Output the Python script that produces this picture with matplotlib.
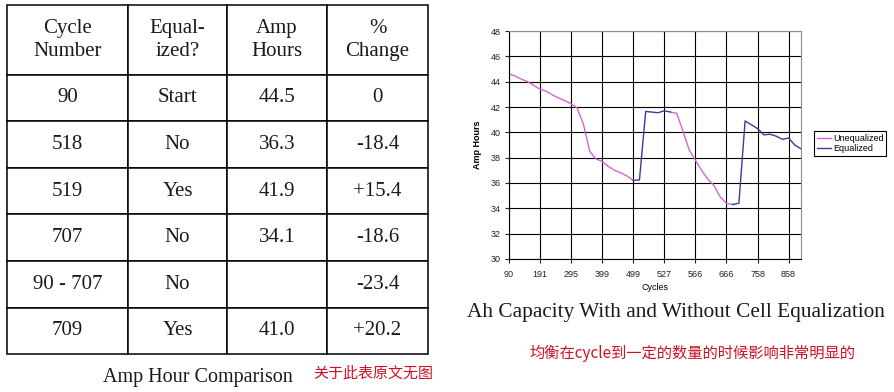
import numpy as np
import matplotlib.pyplot as plt

# 左边的表 (Amp Hour Comparison)
col_labels = ["Cycle\nNumber", "Equal-\nized?", "Amp\nHours", "%\nChange"]
cycle_no = ["90", "518", "519", "707", "90 - 707", "709"]
equalized = ["Start", "No", "Yes", "No", "No", "Yes"]
amp_hours = ["44.5", "36.3", "41.9", "34.1", "", "41.0"]
pct_change = ["0", "-18.4", "+15.4", "-18.6", "-23.4", "+20.2"]

# 右边的曲线, 从图上读出来的值 (48 个点, 每 5 个点一个刻度标签)
cycle_ticks = ["90", "191", "295", "399", "499", "527", "566", "666", "758", "858"]
nan = np.nan
unequalized_ah = [44.6, 44.45, 44.2, 44.0, 43.7, 43.4, 43.25, 42.95, 42.7, 42.5,
                  42.25, 41.9, 40.6, 38.5, 37.9, 37.7, 37.3, 37.0, 36.8, 36.55,
                  36.2, nan, nan, nan, nan, nan, 41.6, 41.5, 40.1, 38.6,
                  37.8, 37.0, 36.3, 35.8, 34.9, 34.4, 34.3, nan, nan, nan,
                  nan, nan, nan, nan, nan, nan, nan, nan]
equalized_ah = [nan, nan, nan, nan, nan, nan, nan, nan, nan, nan,
                nan, nan, nan, nan, nan, nan, nan, nan, nan, nan,
                36.2, 36.25, 41.65, 41.6, 41.55, 41.7, 41.6, nan, nan, nan,
                nan, nan, nan, nan, nan, nan, 34.3, 34.4, 40.9, 40.6,
                40.3, 39.8, 39.85, 39.7, 39.45, 39.55, 39.0, 38.7]

serif = 'Liberation Serif'
sans = 'Liberation Sans'
cjk = ['Noto Sans CJK SC', 'DejaVu Sans']

fig = plt.figure(figsize=(8.95, 3.92), dpi=100)
fig.patch.set_facecolor('white')

# 表格
ax_t = fig.add_axes([0, 0, 1, 1])
ax_t.axis('off')
rows = [col_labels] + [list(r) for r in zip(cycle_no, equalized, amp_hours, pct_change)]
tb = ax_t.table(cellText=rows, cellLoc='center',
                colWidths=[121.6, 98.4, 100.6, 100.4],
                bbox=[0.0075, 0.0962, 0.4704, 0.8918])
tb.auto_set_font_size(False)
for (r, c), cell in tb.get_celld().items():
    cell.set_height(70 if r == 0 else 46.7)
    cell.set_linewidth(1.1)
    cell.set_edgecolor('black')
    t = cell.get_text()
    t.set_fontsize(15)
    t.set_fontfamily(serif)
    t.set_color('#1a1a1a')
    t.set_linespacing(1.3)

fig.text(0.2212, 0.036, "Amp Hour Comparison", family=serif, fontsize=14.5,
         ha='center', va='center', color='#1a1a1a')
fig.text(0.3497, 0.048, "关于此表原文无图", family=cjk, fontsize=10.8,
         ha='left', va='center', color='#cc1122')

# 曲线图
ax = fig.add_axes([0.5687, 0.3393, 0.3263, 0.5816])
x = np.arange(len(unequalized_ah))
ax.plot(x, unequalized_ah, color='#d466d4', lw=1.0, label='Unequalized')
ax.plot(x, equalized_ah, color='#3b3b9c', lw=1.0, label='Equalized')
ax.set_xlim(0, len(x) - 1)
ax.set_ylim(30, 48)
ax.set_xticks(np.arange(0, len(x), 5))
ax.set_xticklabels(cycle_ticks)
ax.set_yticks(np.arange(30, 49, 2))
ax.grid(True, color='black', lw=0.8)
ax.set_axisbelow(True)
for s in ['top', 'right']:
    ax.spines[s].set_color('#8c8c8c')
for s in ['left', 'bottom']:
    ax.spines[s].set_color('black')
ax.tick_params(labelsize=6.5, colors='#222222', length=3, width=0.8, pad=3)
ax.tick_params(axis='x', pad=5)
for lab in ax.get_xticklabels() + ax.get_yticklabels():
    lab.set_family(sans)
ax.set_ylabel("Amp Hours", family=sans, fontsize=6.5, fontweight='bold', labelpad=6)
ax.set_xlabel("Cycles", family=sans, fontsize=6.5, labelpad=3)
leg = ax.legend(loc='upper left', bbox_to_anchor=(1.045, 0.56), fancybox=False,
                edgecolor='black', framealpha=1, prop={'family': sans, 'size': 6.5},
                handlelength=1.6, handletextpad=0.2, borderpad=0.3, labelspacing=0.1,
                borderaxespad=0)
leg.get_frame().set_linewidth(0.8)

fig.text(0.7547, 0.204, "Ah Capacity With and Without Cell Equalization", family=serif,
         fontsize=15.3, ha='center', va='center', color='#1a1a1a')
fig.text(0.7737, 0.0995, "均衡在cycle到一定的数量的时候影响非常明显的", family=cjk,
         fontsize=11, ha='center', va='center', color='#cc1122')

fig.savefig('out.png', dpi=100, facecolor='white')
